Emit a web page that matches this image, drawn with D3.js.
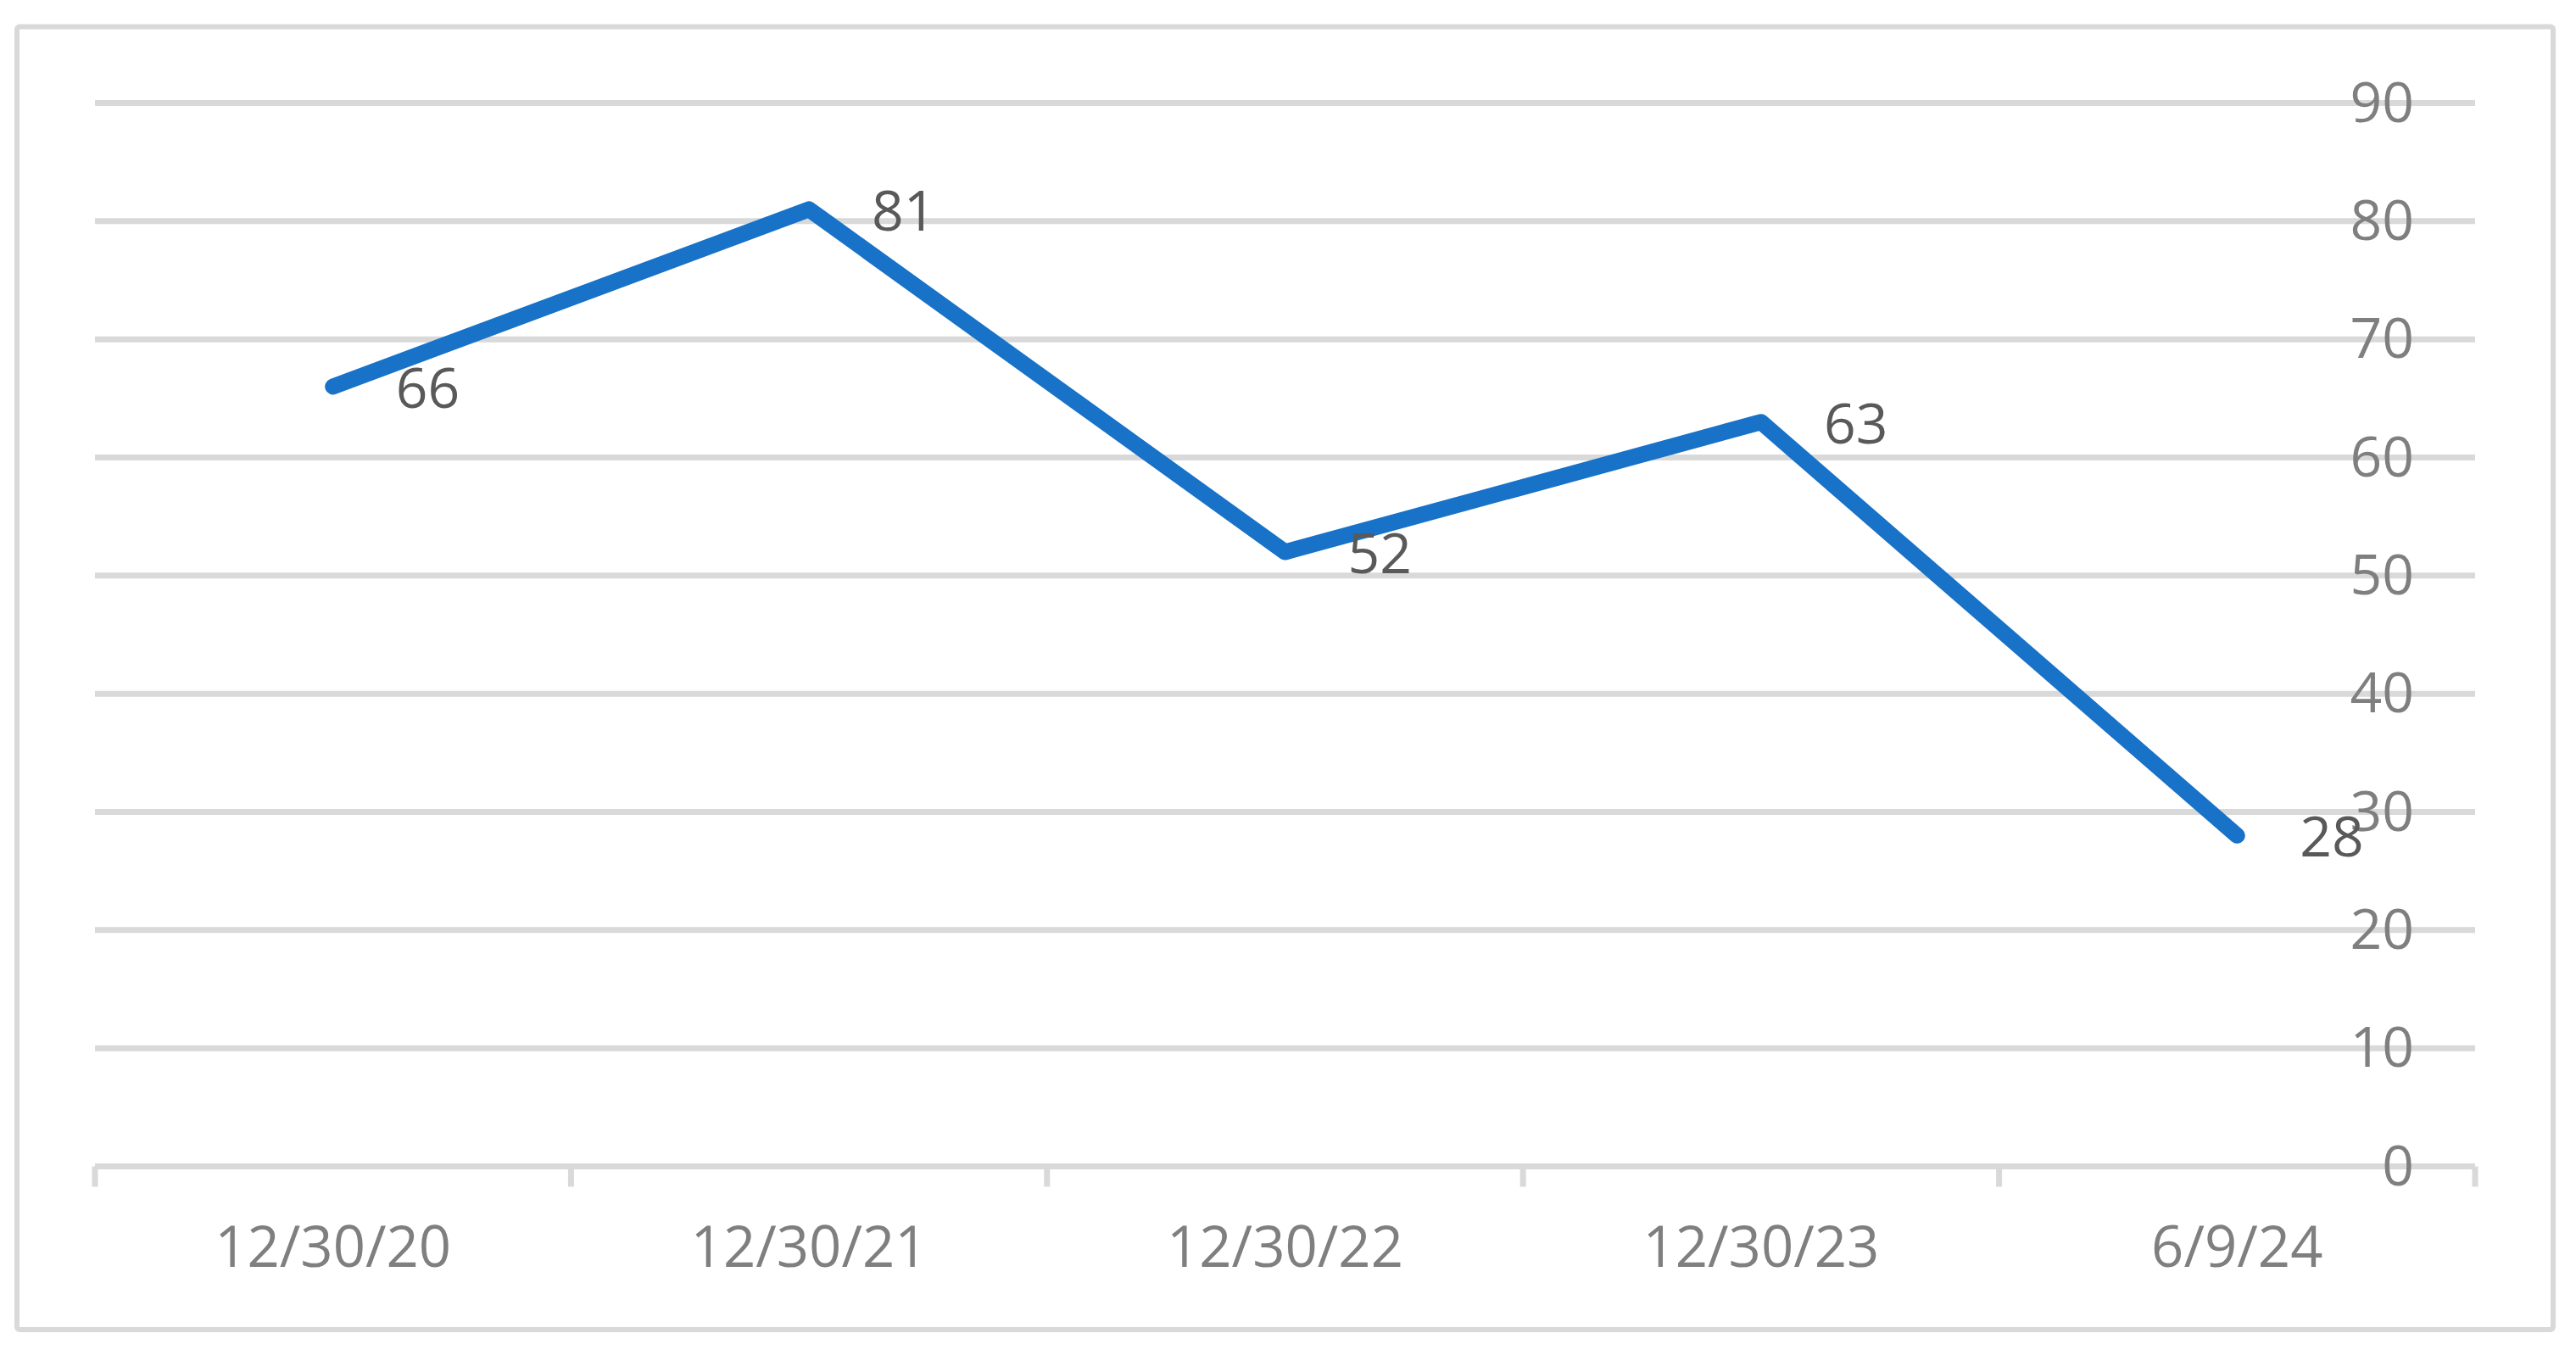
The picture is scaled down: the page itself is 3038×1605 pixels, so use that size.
<!DOCTYPE html>
<html>
<head>
<meta charset="utf-8">
<script src="https://cdn.jsdelivr.net/npm/d3@7"></script>
<style>
  html, body { margin: 0; padding: 0; background: #ffffff; }
  svg { display: block; }
</style>
</head>
<body>
<script>
// ---- Data ----
const categories = ["12/30/20", "12/30/21", "12/30/22", "12/30/23", "6/9/24"];
const values = [66, 81, 52, 63, 28];
const yTicks = [0, 10, 20, 30, 40, 50, 60, 70, 80, 90];

// ---- Layout ----
const W = 3038, H = 1605;
const plot = { left: 112, right: 2919, top: 121.5, bottom: 1375.5 };

const svg = d3.select("body").append("svg")
  .attr("width", W).attr("height", H);

// outer border
svg.append("rect")
  .attr("x", 20).attr("y", 31.5)
  .attr("width", 3011 - 20).attr("height", 1568 - 31.5)
  .attr("rx", 3)
  .attr("fill", "#ffffff")
  .attr("stroke", "#d9d9d9").attr("stroke-width", 6);

const x = d3.scaleBand().domain(categories).range([plot.left, plot.right]).padding(0);
const y = d3.scaleLinear().domain([0, 90]).range([plot.bottom, plot.top]);

// gridlines
svg.append("g").selectAll("line").data(yTicks.filter(d => d !== 0)).join("line")
  .attr("x1", plot.left).attr("x2", plot.right)
  .attr("y1", d => y(d)).attr("y2", d => y(d))
  .attr("stroke", "#d9d9d9").attr("stroke-width", 7);

// x axis (baseline + ticks between categories)
const xAxis = d3.axisBottom(x).tickSize(0).tickFormat("");
const gx = svg.append("g").attr("transform", `translate(0,${plot.bottom})`).call(xAxis);
gx.select(".domain").remove();
svg.append("line")
  .attr("x1", plot.left).attr("x2", plot.right)
  .attr("y1", plot.bottom).attr("y2", plot.bottom)
  .attr("stroke", "#d9d9d9").attr("stroke-width", 7);
const boundaries = categories.map(c => x(c)).concat([x(categories[categories.length - 1]) + x.bandwidth()]);
svg.append("g").selectAll("line").data(boundaries).join("line")
  .attr("x1", d => d).attr("x2", d => d)
  .attr("y1", plot.bottom).attr("y2", plot.bottom + 24)
  .attr("stroke", "#d9d9d9").attr("stroke-width", 7);

// x labels
svg.append("g").selectAll("text").data(categories).join("text")
  .attr("x", d => x(d) + x.bandwidth() / 2)
  .attr("y", 1494)
  .attr("text-anchor", "middle")
  .attr("font-family", "'Open Sans', 'Noto Sans', sans-serif")
  .attr("font-size", 67)
  .attr("fill", "#7f7f7f")
  .text(d => d);

// y labels (right side)
svg.append("g").selectAll("text").data(yTicks).join("text")
  .attr("x", 2847)
  .attr("y", d => y(d) + 22)
  .attr("text-anchor", "end")
  .attr("font-family", "'Open Sans', 'Noto Sans', sans-serif")
  .attr("font-size", 66)
  .attr("fill", "#7f7f7f")
  .text(d => d);

// line
const pts = categories.map((c, i) => ({ c, v: values[i] }));
const line = d3.line()
  .x(d => x(d.c) + x.bandwidth() / 2)
  .y(d => y(d.v));
svg.append("path")
  .datum(pts)
  .attr("d", line)
  .attr("fill", "none")
  .attr("stroke", "#1772c8")
  .attr("stroke-width", 19)
  .attr("stroke-linecap", "round")
  .attr("stroke-linejoin", "round");

// data labels
svg.append("g").selectAll("text").data(pts).join("text")
  .attr("x", d => x(d.c) + x.bandwidth() / 2 + 74)
  .attr("y", d => y(d.v) + 25)
  .attr("text-anchor", "start")
  .attr("font-family", "'Open Sans', 'Noto Sans', sans-serif")
  .attr("font-size", 66)
  .attr("fill", "#595959")
  .text(d => d.v);
</script>
</body>
</html>
